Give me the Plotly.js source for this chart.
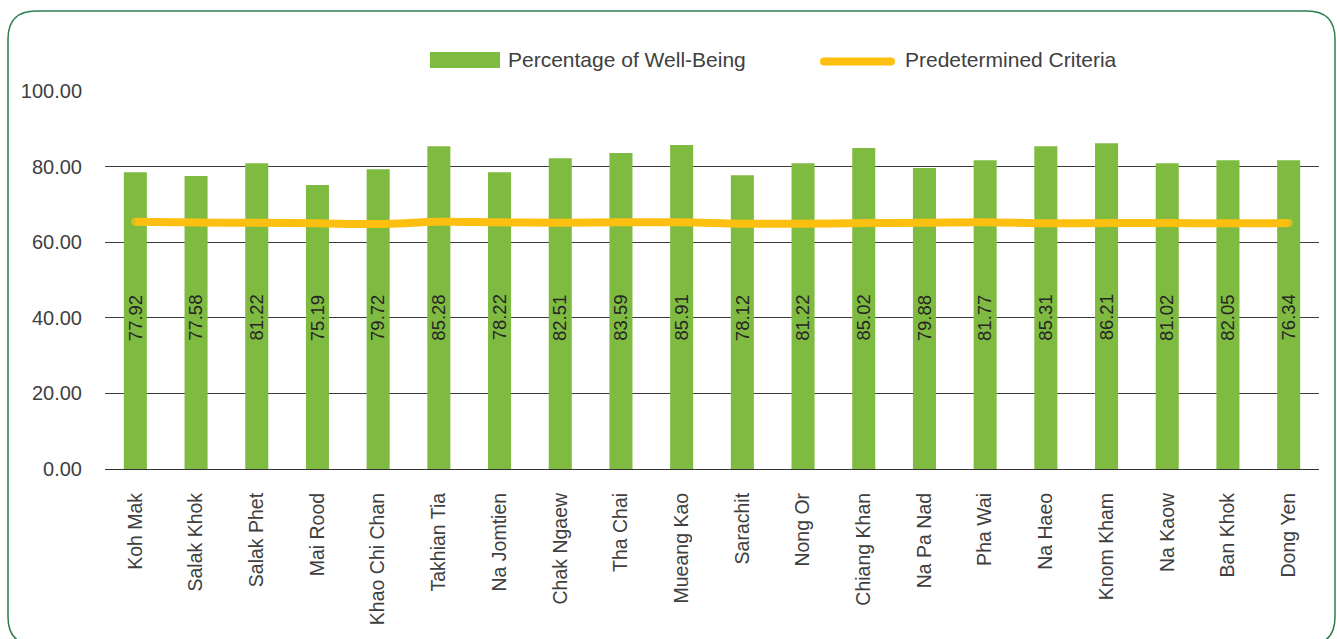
<!DOCTYPE html>
<html>
<head>
<meta charset="utf-8">
<script src="https://cdn.plot.ly/plotly-3.0.1.min.js"></script>
<style>
html,body{margin:0;padding:0;background:#fff;}
#chart{width:1337px;height:639px;}
</style>
</head>
<body>
<div id="chart"></div>
<script>
const categories = ['Koh Mak','Salak Khok','Salak Phet','Mai Rood','Khao Chi Chan','Takhian Tia','Na Jomtien','Chak Ngaew','Tha Chai','Mueang Kao','Sarachit','Nong Or','Chiang Khan','Na Pa Nad','Pha Wai','Na Haeo','Knom Kham','Na Kaow','Ban Khok','Dong Yen'];
const wellBeing = [78.5, 77.5, 80.9, 75.1, 79.3, 85.4, 78.5, 82.2, 83.6, 85.7, 77.7, 80.9, 84.9, 79.6, 81.7, 85.4, 86.2, 80.9, 81.7, 81.7];
const wellBeingLabels = ['77.92','77.58','81.22','75.19','79.72','85.28','78.22','82.51','83.59','85.91','78.12','81.22','85.02','79.88','81.77','85.31','86.21','81.02','82.05','76.34'];
const criteria = [65.4, 65.2, 65.15, 65.0, 64.8, 65.4, 65.25, 65.15, 65.25, 65.25, 64.9, 64.9, 65.05, 65.15, 65.25, 65.0, 65.05, 65.05, 65.0, 65.05];
const yTicks = [0, 20, 40, 60, 80, 100];
const seriesNames = ['Percentage of Well-Being', 'Predetermined Criteria'];
const labelLevel = 40;

const W = 1337, H = 639;
const M = {l: 105, r: 18, t: 91, b: 170};
const PW = W - M.l - M.r, PH = H - M.t - M.b;
const px = x => (x - M.l) / PW;
const py = y => (H - M.b - y) / PH;

const GREEN = '#7fbb41';
const GOLD = '#fdc010';
const TEXT = '#404040';
const FONT = '"Liberation Sans", Arial, Helvetica, sans-serif';

function roundRectPath(x0, y0, x1, y1, r) {
  const X = v => px(v).toFixed(5), Y = v => py(v).toFixed(5);
  return 'M' + X(x0 + r) + ',' + Y(y0) +
    ' L' + X(x1 - r) + ',' + Y(y0) +
    ' Q' + X(x1) + ',' + Y(y0) + ' ' + X(x1) + ',' + Y(y0 + r) +
    ' L' + X(x1) + ',' + Y(y1 - r) +
    ' Q' + X(x1) + ',' + Y(y1) + ' ' + X(x1 - r) + ',' + Y(y1) +
    ' L' + X(x0 + r) + ',' + Y(y1) +
    ' Q' + X(x0) + ',' + Y(y1) + ' ' + X(x0) + ',' + Y(y1 - r) +
    ' L' + X(x0) + ',' + Y(y0 + r) +
    ' Q' + X(x0) + ',' + Y(y0) + ' ' + X(x0 + r) + ',' + Y(y0) + ' Z';
}

const capSizes = criteria.map((v, i) => (i === 0 || i === criteria.length - 1) ? 8 : 0);

const traces = [
  {
    type: 'bar', x: categories, y: wellBeing, name: seriesNames[0],
    marker: {color: GREEN}, hoverinfo: 'skip', showlegend: false
  },
  {
    type: 'scatter', mode: 'lines+markers', x: categories, y: criteria, name: seriesNames[1],
    line: {color: GOLD, width: 8, shape: 'spline', smoothing: 1},
    marker: {color: GOLD, size: capSizes, line: {width: 0}},
    hoverinfo: 'skip', showlegend: false
  }
];

const annotations = categories.map((c, i) => ({
  x: c, y: labelLevel, xref: 'x', yref: 'y',
  text: wellBeingLabels[i], textangle: -90, showarrow: false,
  xanchor: 'center', yanchor: 'middle',
  font: {family: FONT, size: 18.5, color: '#262626'}
}));

annotations.push({
  xref: 'paper', yref: 'paper', x: px(506), y: py(60), xanchor: 'left', yanchor: 'middle',
  text: seriesNames[0], showarrow: false, font: {family: FONT, size: 21, color: TEXT}
});
annotations.push({
  xref: 'paper', yref: 'paper', x: px(903), y: py(60), xanchor: 'left', yanchor: 'middle',
  text: seriesNames[1], showarrow: false, font: {family: FONT, size: 21, color: TEXT}
});

const shapes = [
  {type: 'path', xref: 'paper', yref: 'paper', layer: 'below',
   path: roundRectPath(8, 11, 1335, 645, 28),
   line: {color: '#2e7d4f', width: 1.5}, fillcolor: 'rgba(0,0,0,0)'},
  {type: 'rect', xref: 'paper', yref: 'paper',
   x0: px(430), x1: px(500), y0: py(68), y1: py(52),
   fillcolor: GREEN, line: {width: 0}},
  {type: 'line', xref: 'paper', yref: 'paper',
   x0: px(824), x1: px(891), y0: py(61.5), y1: py(61.5),
   line: {color: GOLD, width: 8}},
  {type: 'circle', xref: 'paper', yref: 'paper',
   x0: px(820), x1: px(828), y0: py(65.5), y1: py(57.5),
   fillcolor: GOLD, line: {width: 0}},
  {type: 'circle', xref: 'paper', yref: 'paper',
   x0: px(887), x1: px(895), y0: py(65.5), y1: py(57.5),
   fillcolor: GOLD, line: {width: 0}}
];

const layout = {
  width: W, height: H,
  margin: M,
  paper_bgcolor: '#ffffff', plot_bgcolor: '#ffffff',
  font: {family: FONT, color: TEXT, size: 20},
  bargap: 0.62,
  showlegend: false,
  xaxis: {
    type: 'category', range: [-0.5, categories.length - 0.5],
    tickangle: -90, ticks: '', showgrid: false, showline: false,
    zeroline: false, ticklabelstandoff: 19,
    tickfont: {family: FONT, size: 19.5, color: TEXT}
  },
  yaxis: {
    range: [0, 100], tickvals: yTicks, tickformat: '.2f', ticks: '',
    showgrid: true, gridcolor: '#3a3a3a', gridwidth: 1,
    zeroline: true, zerolinecolor: '#333333', zerolinewidth: 1, showline: false,
    ticklabelstandoff: 22,
    tickfont: {family: FONT, size: 20, color: TEXT}
  },
  annotations: annotations,
  shapes: shapes
};

Plotly.newPlot('chart', traces, layout, {displayModeBar: false, staticPlot: true});
</script>
</body>
</html>
